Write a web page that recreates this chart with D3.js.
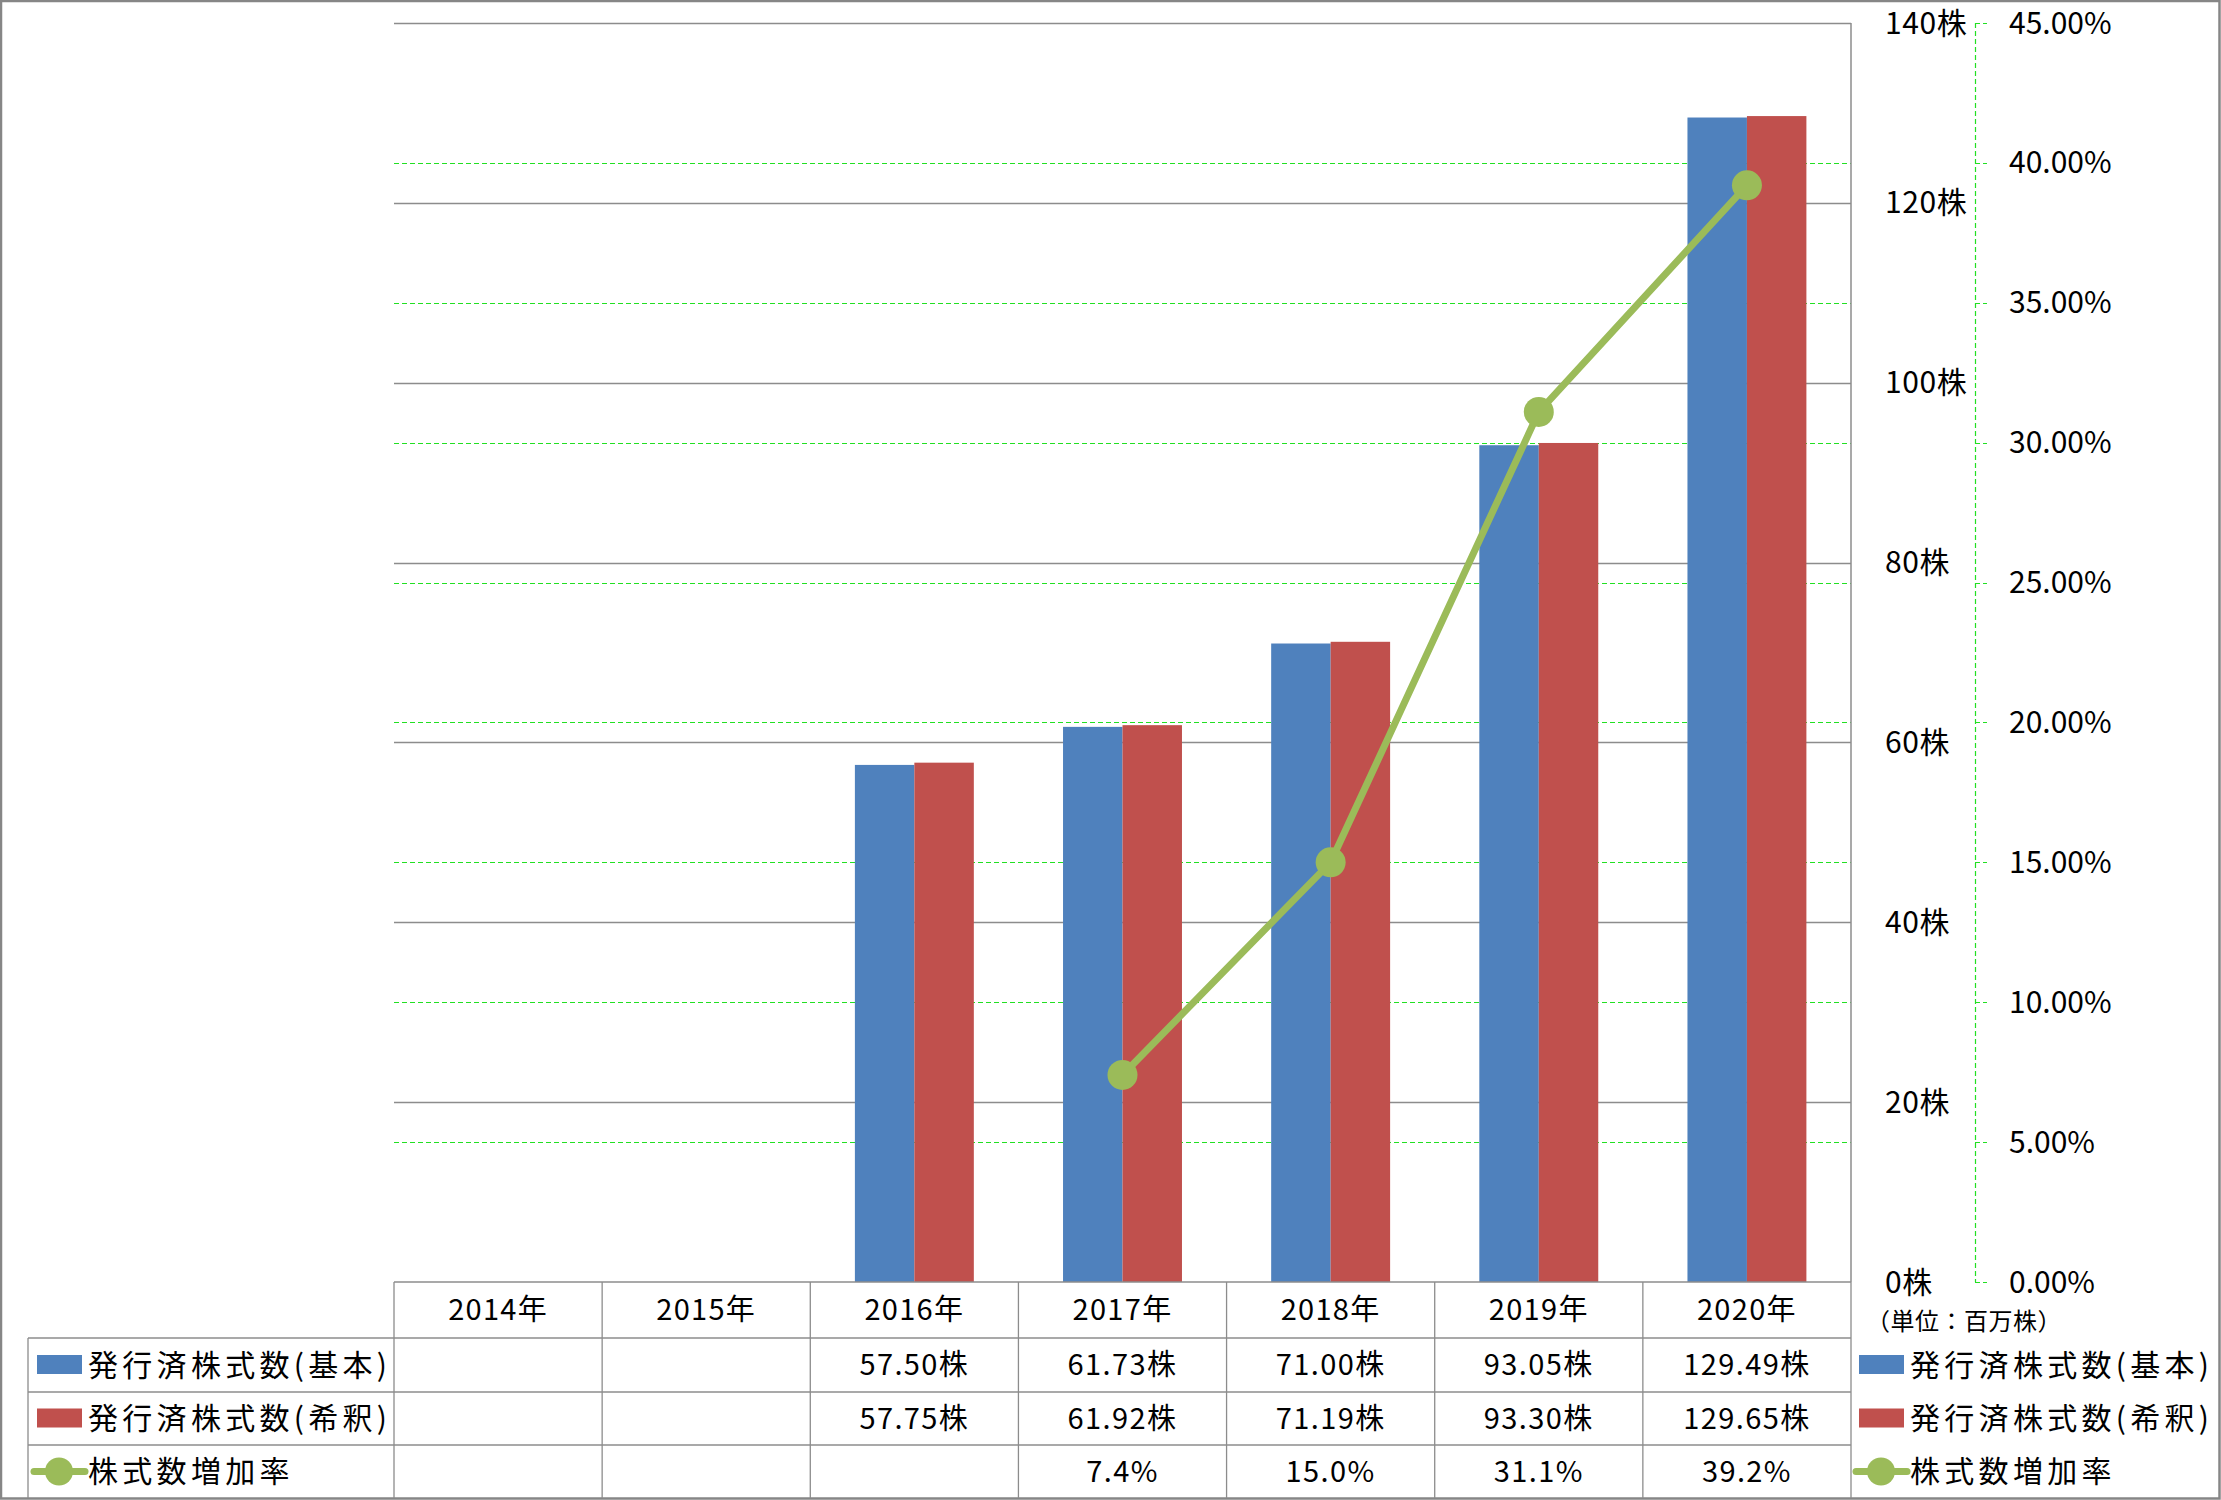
<!DOCTYPE html>
<html>
<head>
<meta charset="utf-8">
<script src="https://cdn.jsdelivr.net/npm/d3@7"></script>
<style>
  html, body { margin: 0; padding: 0; background: #fff; }
  svg { display: block; }
  text { font-family: "Noto Sans CJK JP", "Noto Sans", sans-serif; fill: #000; }
</style>
</head>
<body>
<svg id="chart" width="2221" height="1500"></svg>
<script>
// ---- Data ----
const categories = ["2014年", "2015年", "2016年", "2017年", "2018年", "2019年", "2020年"];
const seriesNames = ["発行済株式数(基本)", "発行済株式数(希釈)", "株式数増加率"];
const basicShares = [null, null, 57.50, 61.73, 71.00, 93.05, 129.49];
const dilutedShares = [null, null, 57.75, 61.92, 71.19, 93.30, 129.65];
const growthRate = [null, null, null, 0.074, 0.150, 0.311, 0.392];
const leftTicks = [0, 20, 40, 60, 80, 100, 120, 140];
const rightTicks = [0, 0.05, 0.10, 0.15, 0.20, 0.25, 0.30, 0.35, 0.40, 0.45];
const unitLabel = "（単位：百万株）";

// ---- Layout ----
const W = 2221, H = 1500;
const plotL = 394, plotR = 1851, plotT = 23, plotB = 1282;
const tableL = 28;
const rowEdges = [1282, 1338, 1392, 1445, 1498];
const blue = "#4F81BD", red = "#C0504D", green = "#9BBB59";
const gridGray = "#8c8c8c";

const svg = d3.select("#chart");

const x = d3.scaleBand().domain(categories).range([plotL, plotR]).padding(0);
const xs = d3.scaleBand().domain([0, 1]).range([0, x.bandwidth()]).paddingInner(0).paddingOuter(0.75);
const y = d3.scaleLinear().domain([0, 140]).range([plotB, plotT]);
const y2 = d3.scaleLinear().domain([0, 0.45]).range([plotB, plotT]);

// outer border
svg.append("rect").attr("x", 1).attr("y", 1).attr("width", W - 2.5).attr("height", H - 2.5)
  .attr("fill", "#fff").attr("stroke", "#868686").attr("stroke-width", 2.5);

// green dashed gridlines (secondary)
svg.append("g").selectAll("line").data(rightTicks.filter(t => t > 0)).join("line")
  .attr("x1", plotL).attr("x2", plotR)
  .attr("y1", d => Math.round(y2(d)) + 0.5).attr("y2", d => Math.round(y2(d)) + 0.5)
  .attr("stroke", "#22e022").attr("stroke-width", 1.2).attr("stroke-dasharray", "5,3");

// gray gridlines (primary)
svg.append("g").selectAll("line").data(leftTicks.filter(t => t > 0)).join("line")
  .attr("x1", plotL).attr("x2", plotR)
  .attr("y1", d => Math.round(y(d)) + 0.5).attr("y2", d => Math.round(y(d)) + 0.5)
  .attr("stroke", gridGray).attr("stroke-width", 1.3);

// primary axis line at right of plot
svg.append("line").attr("x1", plotR).attr("x2", plotR).attr("y1", plotT).attr("y2", plotB)
  .attr("stroke", gridGray).attr("stroke-width", 1.5);

// bars
const barSeries = [basicShares, dilutedShares];
const barColors = [blue, red];
barSeries.forEach((vals, si) => {
  svg.append("g").selectAll("rect")
    .data(categories.map((c, i) => ({ c, v: vals[i] })).filter(d => d.v != null))
    .join("rect")
    .attr("x", d => x(d.c) + xs(si))
    .attr("width", xs.bandwidth())
    .attr("y", d => y(d.v))
    .attr("height", d => plotB - y(d.v))
    .attr("fill", barColors[si]);
});

// growth line
const pts = categories.map((c, i) => ({ c, v: growthRate[i] })).filter(d => d.v != null);
const line = d3.line().x(d => x(d.c) + x.bandwidth() / 2).y(d => y2(d.v));
svg.append("path").datum(pts).attr("d", line)
  .attr("fill", "none").attr("stroke", green).attr("stroke-width", 7).attr("stroke-linejoin", "round");
svg.append("g").selectAll("circle").data(pts).join("circle")
  .attr("cx", d => x(d.c) + x.bandwidth() / 2).attr("cy", d => y2(d.v))
  .attr("r", 15).attr("fill", green);

// primary axis labels (left-aligned)
svg.append("g").selectAll("text").data(leftTicks).join("text")
  .attr("x", 1885).attr("y", d => y(d)).attr("dy", "0.35em")
  .attr("font-size", 30).attr("letter-spacing", 0.6).text(d => d + "株");

// secondary axis (green dashed)
const axX = 1975;
svg.append("line").attr("x1", axX + 0.5).attr("x2", axX + 0.5).attr("y1", plotT).attr("y2", plotB)
  .attr("stroke", "#22e022").attr("stroke-width", 1.2).attr("stroke-dasharray", "5,3");
svg.append("g").selectAll("line").data(rightTicks).join("line")
  .attr("x1", axX).attr("x2", axX + 12)
  .attr("y1", d => Math.round(y2(d)) + 0.5).attr("y2", d => Math.round(y2(d)) + 0.5)
  .attr("stroke", "#22e022").attr("stroke-width", 1.2).attr("stroke-dasharray", "5,3");
svg.append("g").selectAll("text").data(rightTicks).join("text")
  .attr("x", 2009).attr("y", d => y2(d)).attr("dy", "0.35em")
  .attr("font-size", 30).text(d => d3.format(".2%")(d));

// unit label
svg.append("text").attr("x", 1866).attr("y", 1322).attr("dy", "0.35em")
  .attr("font-size", 24).attr("letter-spacing", 0.5).text(unitLabel);

// ---- Data table ----
const tg = svg.append("g");
const tStroke = "#8c8c8c";
tg.append("line").attr("x1", plotL).attr("x2", plotR).attr("y1", rowEdges[0]).attr("y2", rowEdges[0])
  .attr("stroke", tStroke).attr("stroke-width", 1.5);
[rowEdges[1], rowEdges[2], rowEdges[3]].forEach(yy => {
  tg.append("line").attr("x1", tableL).attr("x2", plotR).attr("y1", yy).attr("y2", yy)
    .attr("stroke", tStroke).attr("stroke-width", 1.5);
});
const colEdges = categories.map(c => x(c)).concat([plotR]);
colEdges.forEach(xx => {
  tg.append("line").attr("x1", xx).attr("x2", xx).attr("y1", rowEdges[0]).attr("y2", rowEdges[4])
    .attr("stroke", tStroke).attr("stroke-width", 1.3);
});
tg.append("line").attr("x1", tableL).attr("x2", tableL).attr("y1", rowEdges[1]).attr("y2", rowEdges[4])
  .attr("stroke", tStroke).attr("stroke-width", 1.3);

const rowMid = i => (rowEdges[i] + rowEdges[i + 1]) / 2;
const cellFont = 29;
tg.append("g").selectAll("text").data(categories).join("text")
  .attr("x", d => x(d) + x.bandwidth() / 2).attr("y", rowMid(0)).attr("dy", "0.35em")
  .attr("text-anchor", "middle").attr("font-size", cellFont).attr("letter-spacing", 1.3)
  .text(d => d);
const fmtShares = v => v == null ? "" : d3.format(".2f")(v) + "株";
const fmtPct = v => v == null ? "" : d3.format(".1%")(v);
const rows = [basicShares.map(fmtShares), dilutedShares.map(fmtShares), growthRate.map(fmtPct)];
rows.forEach((r, ri) => {
  tg.append("g").selectAll("text").data(categories.map((c, i) => ({ c, t: r[i] }))).join("text")
    .attr("x", d => x(d.c) + x.bandwidth() / 2).attr("y", rowMid(ri + 1)).attr("dy", "0.35em")
    .attr("text-anchor", "middle").attr("font-size", cellFont).attr("letter-spacing", 1.4)
    .text(d => d.t);
});

// legend keys (in table and on right)
function legendKey(g, xKey, yMid, si) {
  if (si < 2) {
    g.append("rect").attr("x", xKey).attr("y", yMid - 10).attr("width", 45).attr("height", 19)
      .attr("fill", barColors[si]);
  } else {
    g.append("line").attr("x1", xKey - 3).attr("x2", xKey + 48).attr("y1", yMid).attr("y2", yMid)
      .attr("stroke", green).attr("stroke-width", 7).attr("stroke-linecap", "round");
    g.append("circle").attr("cx", xKey + 22).attr("cy", yMid).attr("r", 14).attr("fill", green);
  }
  g.append("text").attr("x", xKey + 51).attr("y", yMid).attr("dy", "0.36em")
    .attr("font-size", 30).attr("letter-spacing", 4.3).text(seriesNames[si]);
}
seriesNames.forEach((n, si) => {
  legendKey(tg, 37, rowMid(si + 1), si);
  legendKey(svg, 1859, rowMid(si + 1), si);
});
</script>
</body>
</html>
